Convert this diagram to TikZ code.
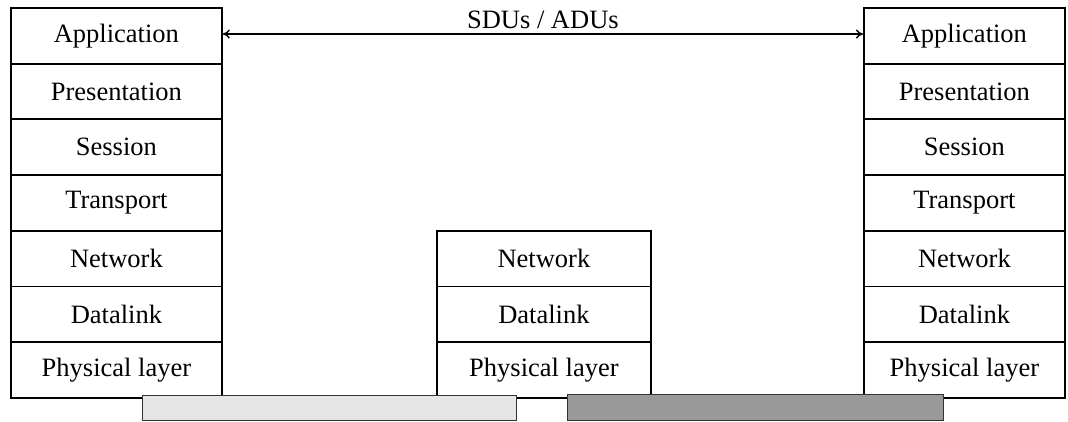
\documentclass[tikz,border=0pt]{standalone}
\usepackage{fontspec}
\setmainfont{Liberation Serif}
\usetikzlibrary{arrows.meta}
\begin{document}
\begin{tikzpicture}[x=1pt,y=-1pt,
  layer/.style={draw=black, line width=1.8pt, fill=white, minimum height=55.7pt, inner sep=0pt, font=\fontsize{26.5}{30}\selectfont, anchor=north west},
  lw/.style={layer, minimum width=211pt},
  mw/.style={layer, minimum width=214pt},
  rw/.style={layer, minimum width=201pt},
  medium/.style={draw=black!80, line width=1pt}]
\useasboundingbox (0,0) rectangle (1068,421);
% left stack
\foreach \t [count=\i from 0] in {Application,Presentation,Session,Transport,Network,Datalink,Physical layer}{
  \node[lw] (L\i) at (10,{7+55.7*\i}) {\t};
}
% right stack
\foreach \t [count=\i from 0] in {Application,Presentation,Session,Transport,Network,Datalink,Physical layer}{
  \node[rw] (R\i) at (863,{7+55.7*\i}) {\t};
}
% middle stack
\foreach \t [count=\i from 4] in {Network,Datalink,Physical layer}{
  \node[mw] (M\i) at (436,{7+55.7*\i}) {\t};
}
% media
\path[medium, fill=black!10] (142,395) rectangle (516,420);
\path[medium, fill=black!40] (567,394) rectangle (943,420);
% arrow
\draw[{To[length=7pt,width=9pt]}-{To[length=7pt,width=9pt]}, line width=1.4pt] (L0.east |- 0,34) -- node[above=1pt, font=\fontsize{26.5}{30}\selectfont] {SDUs / ADUs} (R0.west |- 0,34);
\end{tikzpicture}
\end{document}
